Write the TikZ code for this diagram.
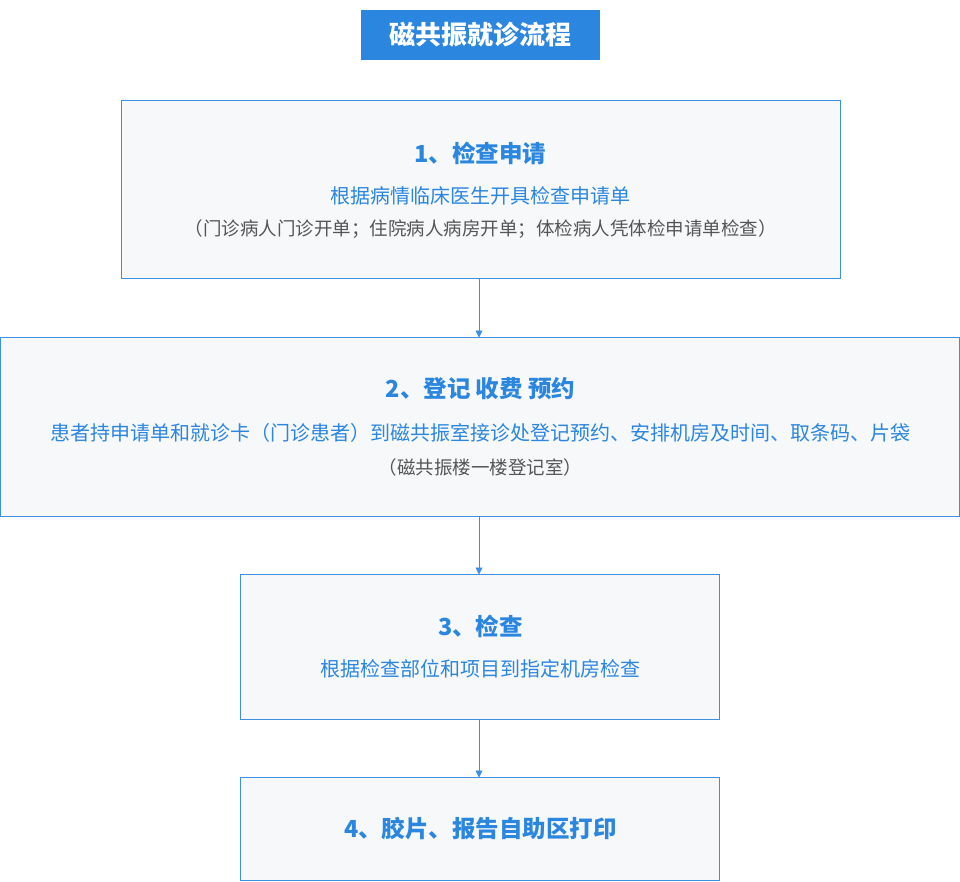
\documentclass[tikz,border=0pt]{standalone}
\usepackage{fontspec}
\setmainfont{Noto Sans CJK SC}
\usetikzlibrary{arrows.meta}
\definecolor{tblue}{HTML}{2B86E0}
\definecolor{bord}{HTML}{3D8FE2}
\definecolor{boxbg}{HTML}{F6F8FA}
\definecolor{tgray}{HTML}{555555}
\tikzset{
  box/.style={draw=bord,fill=boxbg,line width=0.8pt},
  ttl/.style={text=tblue,font=\fontsize{23.5}{27}\selectfont\bfseries},
  sub/.style={text=tblue,font=\fontsize{20}{24}\selectfont},
  note/.style={text=tgray,font=\fontsize{18.5}{22}\selectfont},
  arr/.style={draw=bord,line width=0.8pt,-{Triangle[length=7pt,width=7pt]}}
}
\begin{document}
\begin{tikzpicture}[x=1pt,y=-1pt]
\useasboundingbox (0,0) rectangle (960,881);
\fill[tblue] (361,10) rectangle (600,60);
\node[text=white,font=\fontsize{26}{30}\selectfont\bfseries] (t) at (480.5,35) {磁共振就诊流程};
\draw[box] (121.5,100.5) rectangle (840.5,278.5);
\coordinate (b1top) at (479,100.5); \coordinate (b1bot) at (479,278.5);
\node[ttl] (h1) at (480.5,153) {1、检查申请};
\node[sub] (s1) at (480.5,196) {根据病情临床医生开具检查申请单};
\node[note] (n1) at (480.5,229) {（门诊病人门诊开单；住院病人病房开单；体检病人凭体检申请单检查）};
\draw[box] (0.5,337.5) rectangle (959.5,516.5);
\coordinate (b2top) at (479,337.5); \coordinate (b2bot) at (479,516.5);
\node[ttl] (h2) at (480.5,389) {2、登记 收费 预约};
\node[sub] (s2) at (480.5,433) {患者持申请单和就诊卡（门诊患者）到磁共振室接诊处登记预约、安排机房及时间、取条码、片袋};
\node[note] (n2) at (480.5,467) {（磁共振楼一楼登记室）};
\draw[box] (240.5,574.5) rectangle (719.5,719.5);
\coordinate (b3top) at (479,574.5); \coordinate (b3bot) at (479,719.5);
\node[ttl] (h3) at (480.5,626) {3、检查};
\node[sub] (s3) at (480.5,669) {根据检查部位和项目到指定机房检查};
\draw[box] (240.5,777.5) rectangle (719.5,880.5);
\coordinate (b4top) at (479,777.5);
\node[ttl] (h4) at (480.5,829) {4、胶片、报告自助区打印};
\draw[arr] (b1bot) -- (b2top);
\draw[arr] (b2bot) -- (b3top);
\draw[arr] (b3bot) -- (b4top);
\end{tikzpicture}
\end{document}
